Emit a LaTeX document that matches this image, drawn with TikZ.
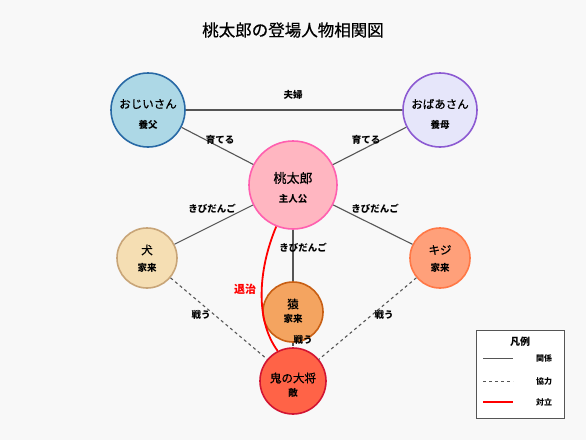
\documentclass[tikz,border=0pt]{standalone}
\usepackage{fontspec}
\newfontfamily\cjk{Noto Sans CJK JP}
\newfontfamily\cjkm[FakeBold=0.6]{Noto Sans CJK JP}
\usetikzlibrary{positioning}
\definecolor{bg}{HTML}{F8F8F8}
\definecolor{linec}{HTML}{555555}
\tikzset{
  person/.style={circle, line width=1.6pt, inner sep=0pt},
  lab/.style={font=\cjk\bfseries\fontsize{9.5}{11}\selectfont, text=black},
  sub/.style={font=\cjk\bfseries\fontsize{9.5}{11}\selectfont, text=black},
  rel/.style={draw=linec, line width=1.1pt},
  coop/.style={draw=linec, line width=1.1pt, dash pattern=on 3pt off 3pt},
  foe/.style={draw=red, line width=1.8pt},
  leg/.style={font=\cjk\bfseries\fontsize{8}{9}\selectfont},
}
\newcommand{\pname}[2]{\node[font=\cjkm\fontsize{11.5}{13}\selectfont] at (#1) {#2};}
\begin{document}
\begin{tikzpicture}[x=1pt,y=-1pt]
\fill[bg] (0,0) rectangle (586,440);
\useasboundingbox (0,0) rectangle (586,440);
\node[font=\cjkm\fontsize{16.5}{18}\selectfont] (title) at (293,30) {桃太郎の登場人物相関図};

% nodes
\node[person, minimum size=74pt, fill={rgb,255:red,173;green,216;blue,230}, draw={rgb,255:red,40;green,105;blue,165}] (jii) at (148,110) {};
\node[person, minimum size=74pt, fill={rgb,255:red,230;green,230;blue,250}, draw={rgb,255:red,140;green,90;blue,210}] (baa) at (440,110) {};
\node[person, minimum size=88pt, fill={rgb,255:red,255;green,182;blue,193}, draw={rgb,255:red,255;green,95;blue,175}] (momo) at (293,185) {};
\node[person, minimum size=60pt, fill={rgb,255:red,245;green,222;blue,179}, draw={rgb,255:red,200;green,165;blue,120}] (inu) at (147,258) {};
\node[person, minimum size=60pt, fill={rgb,255:red,255;green,160;blue,122}, draw={rgb,255:red,255;green,120;blue,70}] (kiji) at (440,258) {};
\node[person, minimum size=60pt, fill={rgb,255:red,244;green,164;blue,96}, draw={rgb,255:red,200;green,95;blue,20}] (saru) at (293,312) {};
\node[person, minimum size=66pt, fill={rgb,255:red,255;green,99;blue,71}, draw={rgb,255:red,210;green,20;blue,50}] (oni) at (293,381) {};

% edges
\draw[rel] (jii) -- (baa);
\draw[rel] (jii) -- (momo);
\draw[rel] (baa) -- (momo);
\draw[rel] (momo) -- (inu);
\draw[rel] (momo) -- (kiji);
\draw[rel] (momo) -- (saru);
\draw[coop] (inu) -- (oni);
\draw[coop] (kiji) -- (oni);
\draw[coop] (saru) -- (oni);
\draw[foe] (momo.248) .. controls (258,270) and (255,320) .. (oni.117);

% edge labels
\node[lab] (l1) at (293,95) {夫婦};
\node[lab] (l2) at (220,140) {育てる};
\node[lab] (l3) at (366,140) {育てる};
\node[lab] (l4) at (212,209) {きびだんご};
\node[lab] (l5) at (375,209) {きびだんご};
\node[lab] (l6) at (303,248) {きびだんご};
\node[lab] (l7) at (201,315) {戦う};
\node[lab] (l8) at (384,315) {戦う};
\node[lab] (l9) at (303,340) {戦う};
\node[font=\cjk\bfseries\fontsize{11}{13}\selectfont, text=red] (l10) at (245,289) {退治};

% node texts
\pname{148,104}{おじいさん}
\node[sub] at (148,125) {養父};
\pname{440,104}{おばあさん}
\node[sub] at (440,125) {養母};
\node[font=\cjkm\fontsize{13}{15}\selectfont] at (293,178) {桃太郎};
\node[sub] at (293,199) {主人公};
\pname{147,250}{犬}
\node[sub] at (147,268) {家来};
\pname{440,250}{キジ}
\node[sub] at (440,268) {家来};
\pname{293,304}{猿}
\node[sub] at (293,319) {家来};
\pname{293,378}{鬼の大将}
\node[sub] at (293,393) {敵};

% legend
\node[draw=linec, line width=0.8pt, fill=white, minimum width=88pt, minimum height=88pt] (legend) at (520,374) {};
\node[font=\cjk\bfseries\fontsize{10}{11}\selectfont] (lt) at (520,342) {凡例};
\coordinate (a1) at (483,358); \coordinate (a2) at (513,358);
\coordinate (b1) at (483,381); \coordinate (b2) at (513,381);
\coordinate (c1) at (483,402); \coordinate (c2) at (513,402);
\draw[draw=linec, line width=0.9pt] (a1) -- (a2);
\draw[draw=linec, line width=0.9pt, dash pattern=on 3pt off 3pt] (b1) -- (b2);
\draw[foe] (c1) -- (c2);
\node[leg] (t1) at (544,358) {関係};
\node[leg] (t2) at (544,381) {協力};
\node[leg] (t3) at (544,402) {対立};
\end{tikzpicture}
\end{document}
